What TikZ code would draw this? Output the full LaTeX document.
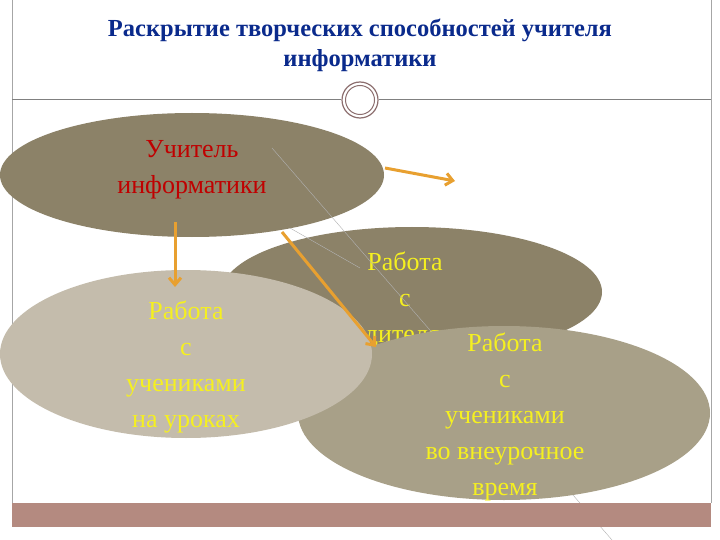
\documentclass[tikz,border=0pt]{standalone}
\usepackage{fontspec}
\setmainfont{Liberation Serif}
\usetikzlibrary{shapes.geometric,arrows.meta}
\definecolor{dark}{HTML}{8C8268}
\definecolor{light}{HTML}{C4BCAC}
\definecolor{mid}{HTML}{A8A088}
\definecolor{ttl}{HTML}{0A2A8C}
\definecolor{arr}{HTML}{E8A030}
\definecolor{bar}{HTML}{B48A80}
\definecolor{ring}{HTML}{8C6E6E}
\definecolor{txtred}{HTML}{C00000}
\definecolor{txtyel}{HTML}{F5F020}
\tikzset{
  blob/.style={ellipse,inner sep=0pt},
  lbl/.style={align=center,font=\fontsize{26}{36}\selectfont},
  conn/.style={arr,line width=3pt,-{Straight Barb[length=7pt,width=12pt]}},
}
\begin{document}
\begin{tikzpicture}[x=1pt,y=-1pt]
\useasboundingbox (0,0) rectangle (720,540);
\fill[white] (0,0) rectangle (720,540);
\draw[gray!70,line width=0.6pt] (12,0) -- (12,503) (711,0) -- (711,503);
\draw[gray,line width=1pt] (12,100) -- (341,100) (379,100) -- (711,100);
\node[circle,draw=ring,line width=1.2pt,minimum size=36pt] (r1) at (360,100) {};
\node[circle,draw=ring,line width=1pt,minimum size=29pt] (r2) at (360,100) {};
\node[font=\bfseries\fontsize{24.5}{30}\selectfont,text=ttl,align=center] (title) at (360,45)
  {Раскрытие творческих способностей учителя\\информатики};
\node[blob,fill=dark,minimum width=384pt,minimum height=124pt] (top) at (192,175) {};
\node[lbl,text=txtred] (topt) at (192,170) {Учитель\\информатики};
\node[blob,fill=dark,minimum width=380pt,minimum height=130pt] (midd) at (412,292) {};
\node[lbl,text=txtyel] (midt) at (405,300) {Работа\\с\\родителями};
\draw[gray!60,line width=0.4pt] (272,148) -- (612,540);
\draw[gray!60,line width=0.4pt] (290,228) -- (360,268);
\node[blob,fill=mid,minimum width=412pt,minimum height=174pt] (right) at (504,413) {};
\node[lbl,text=txtyel] (rightt) at (505,417) {Работа\\с\\учениками\\во внеурочное\\время};
\node[blob,fill=light,minimum width=372pt,minimum height=168pt] (left) at (186,354) {};
\node[lbl,text=txtyel] (leftt) at (186,367) {Работа\\с\\учениками\\на уроках};
\fill[bar] (12,503) rectangle (711,527);
\coordinate (a1) at (175,222);
\coordinate (a2) at (175,287);
\coordinate (b1) at (385,168);
\coordinate (b2) at (455,181);
\coordinate (c1) at (282,232);
\coordinate (c2) at (376,347);
\draw[conn] (a1) -- (a2);
\draw[conn] (b1) -- (b2);
\draw[conn] (c1) -- (c2);
\end{tikzpicture}
\end{document}
